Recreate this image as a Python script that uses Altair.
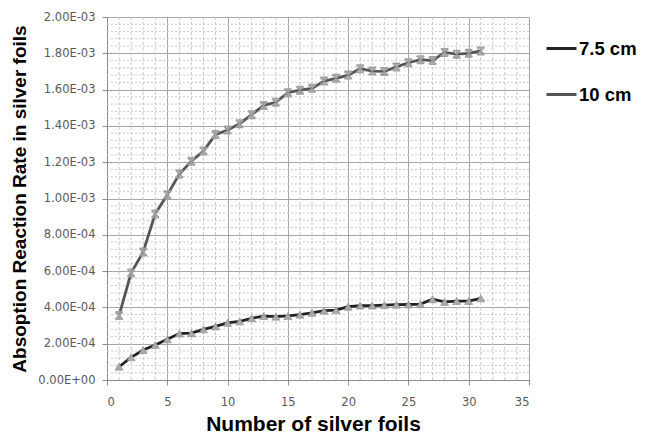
import altair as alt
import pandas as pd

# ---- data ----
foils = list(range(1, 32))
rate_75 = [7.3e-5, 1.25e-4, 1.65e-4, 1.93e-4, 2.24e-4, 2.56e-4, 2.58e-4, 2.79e-4, 2.95e-4, 3.15e-4,
           3.23e-4, 3.40e-4, 3.52e-4, 3.49e-4, 3.53e-4, 3.60e-4, 3.70e-4, 3.82e-4, 3.85e-4, 4.04e-4,
           4.10e-4, 4.10e-4, 4.13e-4, 4.15e-4, 4.16e-4, 4.18e-4, 4.45e-4, 4.30e-4, 4.35e-4, 4.35e-4,
           4.50e-4]
rate_10 = [3.55e-4, 5.90e-4, 7.05e-4, 9.15e-4, 1.020e-3, 1.135e-3, 1.205e-3, 1.262e-3, 1.352e-3, 1.377e-3,
           1.412e-3, 1.462e-3, 1.513e-3, 1.530e-3, 1.583e-3, 1.597e-3, 1.607e-3, 1.647e-3, 1.662e-3, 1.680e-3,
           1.715e-3, 1.702e-3, 1.700e-3, 1.725e-3, 1.748e-3, 1.765e-3, 1.760e-3, 1.805e-3, 1.795e-3, 1.800e-3,
           1.813e-3]
series_names = ["7.5 cm", "10 cm"]
x_major = [0, 5, 10, 15, 20, 25, 30, 35]
y_major = [round(i * 2e-4, 6) for i in range(11)]
x_minor = [i for i in range(36) if i % 5]
y_minor = [round(i * 4e-5, 7) for i in range(51) if i % 5]

df = pd.DataFrame({
    "foil": foils * 2,
    "rate": rate_75 + rate_10,
    "series": [series_names[0]] * len(foils) + [series_names[1]] * len(foils),
})
df_x_minor = pd.DataFrame({"foil": x_minor})
df_y_minor = pd.DataFrame({"rate": y_minor})

W, H = 422, 363
x_scale = alt.Scale(domain=[0, 35], nice=False, zero=False)
y_scale = alt.Scale(domain=[0, 0.002], nice=False)

label_font = "DejaVu Sans"
title_font = "Liberation Sans"

x_axis = alt.Axis(
    values=x_major, title="Number of silver foils", grid=True, gridColor="#a6a6a6", gridWidth=1,
    domainColor="#8c8c8c", tickColor="#8c8c8c", tickSize=5, labelFont=label_font, labelFontSize=11.5,
    labelColor="#595959", labelPadding=11, titleFont=title_font, titleFontSize=21, titleFontWeight="bold",
    titleColor="#000000", titleX=206, titleY=50, titleBaseline="alphabetic", titleAnchor="middle",
    titleAlign="center",
)
y_axis = alt.Axis(
    values=y_major, title="Absoption Reaction Rate in silver foils", grid=True, gridColor="#a6a6a6",
    gridWidth=1, domainColor="#8c8c8c", tickColor="#8c8c8c", tickSize=5, labelFont=label_font,
    labelFontSize=11.5, labelColor="#595959", labelPadding=7,
    labelExpr=("datum.value < 1e-12 ? '0.00E+00' : format(datum.value / pow(10, floor(log(datum.value)/LN10 + 1e-9)), '.2f')"
               " + 'E-0' + toString(-floor(log(datum.value)/LN10 + 1e-9))"),
    titleFont=title_font, titleFontSize=19, titleFontWeight="bold", titleColor="#000000",
    titleX=-82, titleBaseline="alphabetic", titleAngle=270,
)

xenc = alt.X("foil:Q", scale=x_scale, axis=x_axis)
yenc = alt.Y("rate:Q", scale=y_scale, axis=y_axis)

grid_x = alt.Chart(df_x_minor).mark_rule(color="#c8c8c8", strokeWidth=1, strokeDash=[3, 2]).encode(x=xenc)
grid_y = alt.Chart(df_y_minor).mark_rule(color="#c8c8c8", strokeWidth=1, strokeDash=[2, 2]).encode(y=yenc)

lines = alt.Chart(df).mark_line(strokeWidth=2.8).encode(
    x=xenc, y=yenc,
    color=alt.Color("series:N", scale=alt.Scale(domain=series_names, range=["#222222", "#555555"]),
                    sort=series_names,
                    legend=alt.Legend(title=None, orient="none", legendX=438, legendY=15,
                                      symbolType="stroke", symbolSize=900, symbolStrokeWidth=3,
                                      labelFont=title_font, labelFontSize=18.5, labelFontWeight="bold",
                                      labelColor="#000000", labelOffset=1, rowPadding=20, padding=0)),
    detail="series:N",
)

tri = alt.Chart(df[df.series == series_names[0]]).mark_point(
    shape="triangle-up", filled=True, fill="#a9a9a9", stroke="#8a8a8a", strokeWidth=0.6, size=65, opacity=1
).encode(x=xenc, y=yenc)

star = alt.Chart(df[df.series == series_names[1]]).mark_point(
    shape="M-1,-1L1,1M-1,1L1,-1M0,-1L0,1M-1,-1L1,-1M-1,1L1,1", filled=False, stroke="#a0a0a0",
    strokeWidth=1.6, size=55, opacity=1
).encode(x=xenc, y=yenc)

chart = alt.layer(grid_x, grid_y, lines, tri, star).properties(
    width=W, height=H,
    autosize=alt.AutoSizeParams(type="none"),
    padding={"left": 99, "top": 9, "right": 109, "bottom": 55},
    background="white",
).configure_view(stroke=None)

chart.save("out.html", embed_options={"renderer": "svg", "actions": False})
